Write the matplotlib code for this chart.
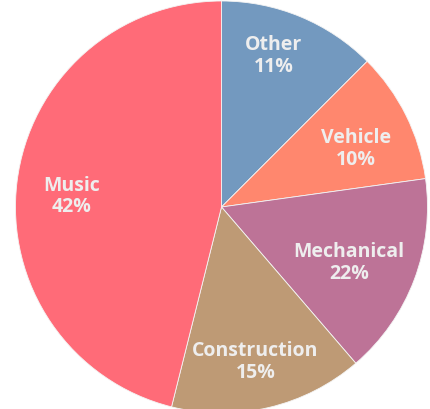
import numpy as np
import matplotlib
matplotlib.use("Agg")
import matplotlib.pyplot as plt

# slice sizes as drawn, clockwise from 12 o'clock
categories = ["Other", "Vehicle", "Mechanical", "Construction", "Music"]
sizes = [12.5, 10.3, 15.9, 15.2, 46.1]
# percentages as printed on the chart
pct_labels = ["11%", "10%", "22%", "15%", "42%"]

colors = ["#7399bf", "#ff876e", "#bd7397", "#be9a75", "#ff6b78"]
# label placement: fraction of radius, and nudge off the mid angle (deg)
label_radius = [0.775, 0.71, 0.675, 0.77, 0.73]
label_nudge = [3.5, -3.0, -3.0, -1.0, 3.0]

plt.rcParams["font.family"] = ["Open Sans", "DejaVu Sans"]

fig = plt.figure(figsize=(4.31, 4.09), dpi=100)
ax = fig.add_axes([0, 0, 1, 1])

wedges, _ = ax.pie(sizes, colors=colors, startangle=90, counterclock=False,
                   wedgeprops=dict(edgecolor="#f4f4f4", linewidth=0.6))

for w, name, pct, r, d in zip(wedges, categories, pct_labels, label_radius, label_nudge):
    mid = np.deg2rad((w.theta1 + w.theta2) / 2 + d)
    ax.text(r * np.cos(mid), r * np.sin(mid), name + "\n" + pct,
            ha="center", va="center", color="#eeeeee", fontsize=14,
            fontweight="bold", linespacing=1.12)

# pixel-matched view: centre at (221.5, 207), radius 206 px
s = 206.0
ax.set_xlim(-221.5 / s, (431 - 221.5) / s)
ax.set_ylim(-(409 - 207) / s, 207 / s)
ax.set_aspect("equal")
ax.axis("off")

fig.savefig("out.png", dpi=100)
